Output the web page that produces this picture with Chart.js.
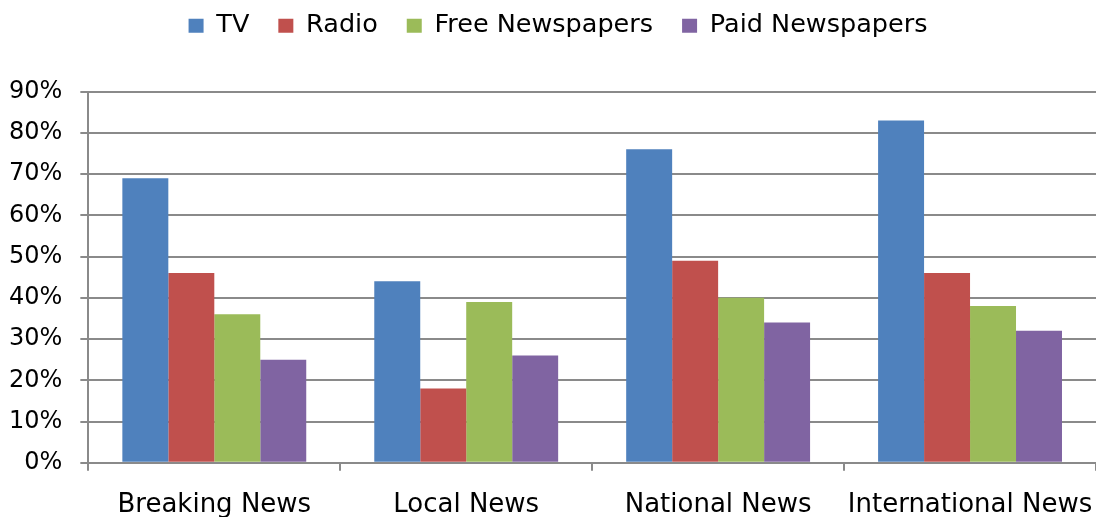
<!DOCTYPE html>
<html>
<head>
<meta charset="utf-8">
<script src="https://cdn.jsdelivr.net/npm/chart.js@4.4.1/dist/chart.umd.min.js"></script>
<style>
  html, body { margin: 0; padding: 0; background: #fff; }
  #wrap { width: 1096px; height: 517px; }
</style>
</head>
<body>
<div id="wrap"><canvas id="chart" width="1096" height="517"></canvas></div>
<script>
const categories = ['Breaking News', 'Local News', 'National News', 'International News'];
const tvValues = [69, 44, 76, 83];
const radioValues = [46, 18, 49, 46];
const freePaperValues = [36, 39, 40, 38];
const paidPaperValues = [25, 26, 34, 32];
const yTicks = [0, 10, 20, 30, 40, 50, 60, 70, 80, 90];

const gridGrey = '#8a8a8a';
const fontFamily = "'DejaVu Sans', Verdana, sans-serif";

function series(label, data, color) {
  return {
    label,
    data,
    backgroundColor: color,
    borderWidth: 0,
    categoryPercentage: 0.73,
    barPercentage: 1.0,
  };
}

// extra gap between the legend row and the plot
const legendGap = {
  id: 'legendGap',
  beforeInit(chart) {
    const fit = chart.legend.fit;
    chart.legend.fit = function () {
      fit.call(this);
      this.height += 43;
    };
  },
};

new Chart(document.getElementById('chart'), {
  type: 'bar',
  data: {
    labels: categories,
    datasets: [
      series('TV', tvValues, '#4f81bd'),
      series('Radio', radioValues, '#c0504d'),
      series('Free Newspapers', freePaperValues, '#9bbb59'),
      series('Paid Newspapers', paidPaperValues, '#8064a2'),
    ],
  },
  plugins: [legendGap],
  options: {
    responsive: false,
    animation: false,
    layout: { padding: { left: -9, right: -29, top: -16, bottom: -23 } },
    plugins: {
      legend: {
        position: 'top',
        labels: {
          boxWidth: 15,
          boxHeight: 14,
          padding: 29,
          color: '#000',
          font: { family: fontFamily, size: 25.5 },
        },
      },
      tooltip: { enabled: false },
    },
    scales: {
      x: {
        // let the plot run to the right edge of the canvas
        afterFit(scale) {
          scale.paddingLeft = 0;
          scale.paddingRight = 0;
        },
        grid: {
          display: true,
          drawOnChartArea: false,
          drawTicks: true,
          tickLength: 8,
          color: gridGrey,
          lineWidth: 2,
        },
        border: { display: true, color: gridGrey, width: 2 },
        ticks: {
          color: '#000',
          padding: 19,
          maxRotation: 0,
          font: { family: fontFamily, size: 26 },
        },
      },
      y: {
        min: 0,
        max: 90,
        afterBuildTicks(scale) {
          scale.ticks = yTicks.map((v) => ({ value: v }));
        },
        grid: {
          color: gridGrey,
          lineWidth: 2,
          tickLength: 8,
        },
        border: { display: true, color: gridGrey, width: 2 },
        ticks: {
          color: '#000',
          padding: 18,
          font: { family: fontFamily, size: 24 },
          callback: (v) => v + '%',
        },
      },
    },
  },
});
</script>
</body>
</html>
